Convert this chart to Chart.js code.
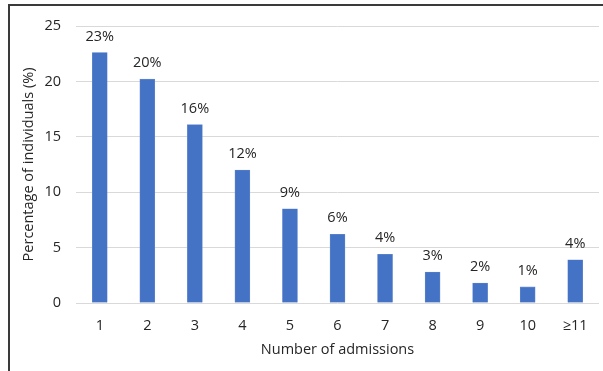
<!DOCTYPE html>
<html>
<head>
<meta charset="utf-8">
<script src="https://cdn.jsdelivr.net/npm/chart.js@4/dist/chart.umd.min.js"></script>
<style>
  html, body { margin: 0; padding: 0; background: #fff; }
  #wrap { position: relative; width: 603px; height: 371px; }
  #frame {
    position: absolute; left: 8px; top: 4px; right: 0; bottom: 0;
    border-top: 2px solid #3a3a3a; border-left: 2px solid #3a3a3a;
    pointer-events: none;
  }
</style>
</head>
<body>
<div id="wrap">
  <canvas id="chart" width="603" height="371"></canvas>
  <div id="frame"></div>
</div>
<script>
// Admissions per individual
const categories = ['1', '2', '3', '4', '5', '6', '7', '8', '9', '10', '≥11'];
const percentValues = [22.6, 20.2, 16.1, 12.0, 8.5, 6.2, 4.4, 2.8, 1.8, 1.45, 3.9];
const barLabels = ['23%', '20%', '16%', '12%', '9%', '6%', '4%', '3%', '2%', '1%', '4%'];
const yTicks = [0, 5, 10, 15, 20, 25];

const FONT = '"Open Sans", Lato, sans-serif';
const TEXT = '#262626';
const SIZE = 14.5;

// Value labels above each bar
const barLabelPlugin = {
  id: 'barLabels',
  afterDatasetsDraw(chart) {
    const ctx = chart.ctx;
    const meta = chart.getDatasetMeta(0);
    ctx.save();
    ctx.font = SIZE + 'px ' + FONT;
    ctx.fillStyle = TEXT;
    ctx.textAlign = 'center';
    ctx.textBaseline = 'middle';
    meta.data.forEach((bar, i) => {
      ctx.fillText(barLabels[i], bar.x, bar.y - 16);
    });
    ctx.restore();
  }
};

const ctx = document.getElementById('chart').getContext('2d');
new Chart(ctx, {
  type: 'bar',
  data: {
    labels: categories,
    datasets: [{
      data: percentValues,
      backgroundColor: '#4472C4',
      borderColor: '#6b8fd0',
      borderWidth: 0.6,
      barThickness: 15
    }]
  },
  options: {
    responsive: false,
    animation: false,
    layout: { padding: { top: 26, right: 4, left: 0, bottom: 0 } },
    plugins: {
      legend: { display: false },
      tooltip: { enabled: false }
    },
    scales: {
      x: {
        grid: { display: false },
        border: { display: false },
        ticks: { color: TEXT, font: { family: FONT, size: SIZE }, padding: 6 },
        title: {
          display: true,
          text: 'Number of admissions',
          color: TEXT,
          font: { family: FONT, size: SIZE },
          padding: { top: 4, bottom: 12 }
        },
        afterFit: (scale) => { scale.height = 68; }
      },
      y: {
        min: 0,
        max: 25,
        afterBuildTicks: (scale) => {
          scale.ticks = yTicks.map(v => ({ value: v }));
        },
        grid: { color: '#d9d9d9', lineWidth: 1, drawTicks: false },
        border: { display: false },
        ticks: { color: TEXT, font: { family: FONT, size: SIZE }, padding: 15 },
        title: {
          display: true,
          text: 'Percentage of individuals (%)',
          color: TEXT,
          font: { family: FONT, size: SIZE },
          padding: { top: 20, bottom: 0 }
        },
        afterFit: (scale) => { scale.width = 76; }
      }
    }
  },
  plugins: [barLabelPlugin]
});
</script>
</body>
</html>
